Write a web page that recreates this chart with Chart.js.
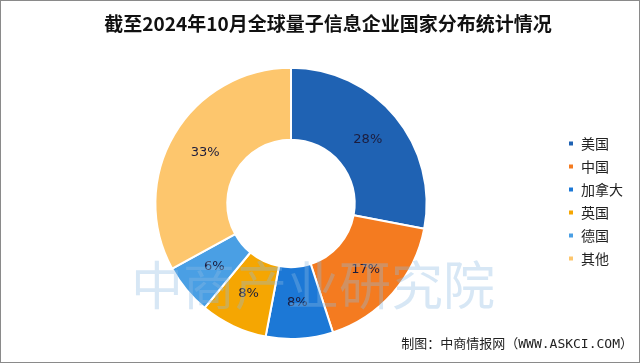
<!DOCTYPE html>
<html>
<head>
<meta charset="utf-8">
<script src="https://cdn.jsdelivr.net/npm/chart.js@4.4.1/dist/chart.umd.min.js"></script>
<style>
  html, body { margin: 0; padding: 0; background: #fff; }
  #wrap { width: 640px; height: 363px; box-sizing: border-box; border: 1px solid #8a8a8a; }
  canvas { display: block; }
</style>
</head>
<body>
<div id="wrap"><canvas id="grafica_paises" width="638" height="361"></canvas></div>
<script>
// datos
var paises   = ['美国', '中国', '加拿大', '英国', '德国', '其他'];
var porcentaje = [28, 17, 8, 8, 6, 33];
var colores  = ['#1f62b3', '#f47b20', '#1c78d6', '#f5a602', '#4a9fe4', '#fdc66d'];

var tituloTxt = '截至2024年10月全球量子信息企业国家分布统计情况';
var fuenteTxt = '制图：中商情报网（WWW.ASKCI.COM）';
var marcaTxt  = '中商产业研究院';

// etiquetas de porcentaje + marca de agua + fuente
var extras = {
    id: 'extras',
    afterDatasetsDraw: function(chart){
        var ctx = chart.ctx;
        var meta = chart.getDatasetMeta(0);
        ctx.save();
        ctx.font = '13px "DejaVu Sans"';
        ctx.fillStyle = '#1c1c3c';
        ctx.textAlign = 'center';
        ctx.textBaseline = 'middle';
        meta.data.forEach(function(arc, i){
            var p = arc.tooltipPosition();
            ctx.fillText(porcentaje[i] + '%', p.x, p.y);
        });

        // marca de agua
        ctx.font = '52px "Noto Sans CJK SC"';
        ctx.fillStyle = 'rgba(140, 185, 225, 0.35)';
        ctx.textAlign = 'left';
        ctx.fillText(marcaTxt, 130, 284);

        // fuente
        ctx.font = '13px "DejaVu Sans Mono", "Noto Sans CJK SC"';
        ctx.fillStyle = '#222';
        ctx.textAlign = 'right';
        ctx.fillText(fuenteTxt, 632, 344);
        ctx.restore();
    }
};

var chartOptions = {
    responsive: false,
    animation: false,
    cutout: '47%',
    layout: { padding: { left: 22, right: 6, top: 0, bottom: 22 } },
    plugins: {
        title: {
            display: true,
            text: tituloTxt,
            color: '#111',
            font: { family: '"Noto Sans CJK SC"', size: 19, weight: 'bold' },
            padding: { top: 11, bottom: 32 }
        },
        legend: {
            display: true,
            position: 'right',
            title: {
                display: true,
                text: '',
                font: { size: 1 },
                padding: { top: 60, bottom: 0 }
            },
            labels: {
                boxWidth: 6,
                boxHeight: 6,
                padding: 9,
                color: '#222',
                font: { family: '"Noto Sans CJK SC"', size: 14 }
            }
        },
        tooltip: { enabled: false }
    }
};

new Chart(document.getElementById('grafica_paises'), {
    type: 'doughnut',
    data: {
        labels: paises,
        datasets: [{
            data: porcentaje,
            backgroundColor: colores,
            borderColor: '#ffffff',
            borderWidth: 2
        }]
    },
    options: chartOptions,
    plugins: [extras]
});
</script>
</body>
</html>
